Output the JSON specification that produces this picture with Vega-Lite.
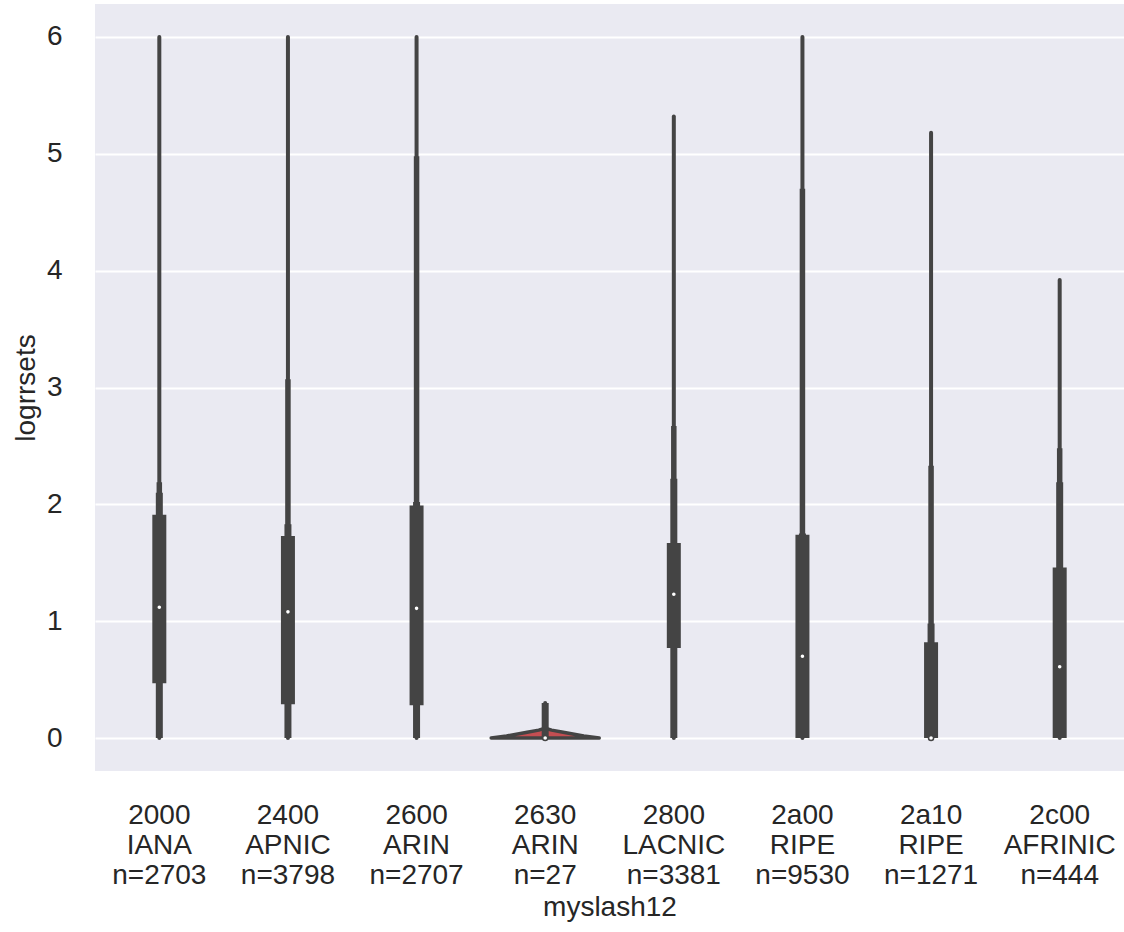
{
  "$schema": "https://vega.github.io/schema/vega-lite/v6.json",
  "width": 1029,
  "height": 767,
  "autosize": {"type": "none"},
  "padding": {"left": 95, "top": 4, "right": 0, "bottom": 161},
  "background": "white",
  "config": {
    "view": {"fill": "#EAEAF2", "stroke": null},
    "axis": {
      "labelFont": "Liberation Sans",
      "titleFont": "Liberation Sans",
      "labelFontSize": 28,
      "titleFontSize": 28,
      "labelColor": "#262626",
      "titleColor": "#262626",
      "titleFontWeight": "normal",
      "domain": false,
      "ticks": false,
      "tickSize": 0,
      "gridColor": "#FFFFFF",
      "gridWidth": 2,
      "gridOpacity": 1
    }
  },
  "datasets": {
    "v": [
      {"g": "2000|IANA|n=2703", "mn": 0, "mx": 6.0, "tail": 2.19, "wlo": 0, "whi": 2.1, "q1": 0.47, "q3": 1.91, "med": 1.12},
      {"g": "2400|APNIC|n=3798", "mn": 0, "mx": 6.0, "tail": 3.07, "wlo": 0, "whi": 1.83, "q1": 0.29, "q3": 1.73, "med": 1.08},
      {"g": "2600|ARIN|n=2707", "mn": 0, "mx": 6.0, "tail": 4.98, "wlo": 0, "whi": 2.02, "q1": 0.28, "q3": 1.99, "med": 1.11},
      {"g": "2630|ARIN|n=27", "mn": 0, "mx": 0.3, "tail": 0.3, "wlo": 0, "whi": 0.3, "q1": 0, "q3": 0, "med": 0},
      {"g": "2800|LACNIC|n=3381", "mn": 0, "mx": 5.32, "tail": 2.67, "wlo": 0, "whi": 2.22, "q1": 0.77, "q3": 1.67, "med": 1.23},
      {"g": "2a00|RIPE|n=9530", "mn": 0, "mx": 6.0, "tail": 4.7, "wlo": 0, "whi": 1.75, "q1": 0, "q3": 1.74, "med": 0.7},
      {"g": "2a10|RIPE|n=1271", "mn": 0, "mx": 5.18, "tail": 2.33, "wlo": 0, "whi": 0.98, "q1": 0, "q3": 0.82, "med": 0},
      {"g": "2c00|AFRINIC|n=444", "mn": 0, "mx": 3.92, "tail": 2.48, "wlo": 0, "whi": 2.19, "q1": 0, "q3": 1.46, "med": 0.61}
    ],
    "shape": [
      {"px": 3.08, "top": 0.0, "bottom": 0.0},
      {"px": 3.2, "top": 0.018, "bottom": 0.0},
      {"px": 3.36, "top": 0.05, "bottom": 0.0},
      {"px": 3.45, "top": 0.068, "bottom": 0.0},
      {"px": 3.5, "top": 0.085, "bottom": 0.0},
      {"px": 3.55, "top": 0.068, "bottom": 0.0},
      {"px": 3.64, "top": 0.05, "bottom": 0.0},
      {"px": 3.8, "top": 0.018, "bottom": 0.0},
      {"px": 3.92, "top": 0.0, "bottom": 0.0}
    ]
  },
  "layer": [
    {
      "data": {"name": "shape"},
      "mark": {"type": "area", "fill": "#C44E52", "stroke": "#444444", "strokeWidth": 3.5, "strokeJoin": "round"},
      "encoding": {
        "x": {"field": "px", "type": "quantitative", "scale": {"domain": [0, 8], "nice": false, "zero": false}, "axis": null},
        "y": {"field": "top", "type": "quantitative", "scale": {"domain": [-0.282, 6.282], "nice": false, "zero": false},
          "axis": {"title": "logrrsets", "values": [0, 1, 2, 3, 4, 5, 6], "format": "d", "labelPadding": 33, "titlePadding": 6, "grid": true}},
        "y2": {"field": "bottom"}
      }
    },
    {
      "data": {"name": "v"},
      "encoding": {
        "x": {
          "field": "g",
          "type": "nominal",
          "sort": null,
          "scale": {"paddingInner": 0, "paddingOuter": 0},
          "axis": {
            "title": "myslash12",
            "labelExpr": "split(datum.value, '|')",
            "labelAngle": 0,
            "labelAlign": "center",
            "labelBaseline": "top",
            "labelLineHeight": 30,
            "labelPadding": 30,
            "labelLimit": 0,
            "titlePadding": 4,
            "grid": false
          }
        }
      },
      "layer": [
        {
          "mark": {"type": "rule", "color": "#444444", "strokeWidth": 4, "strokeCap": "round"},
          "encoding": {
            "y": {"field": "mn", "type": "quantitative", "scale": {"domain": [-0.282, 6.282], "nice": false, "zero": false},
              "axis": {"title": "logrrsets", "values": [0, 1, 2, 3, 4, 5, 6], "format": "d", "labelPadding": 33, "titlePadding": 6, "grid": true}},
            "y2": {"field": "mx"}
          }
        },
        {
          "mark": {"type": "rule", "color": "#444444", "strokeWidth": 5.5, "strokeCap": "butt"},
          "encoding": {"y": {"field": "mn", "type": "quantitative"}, "y2": {"field": "tail"}}
        },
        {
          "mark": {"type": "rule", "color": "#444444", "strokeWidth": 7, "strokeCap": "butt"},
          "encoding": {"y": {"field": "wlo", "type": "quantitative"}, "y2": {"field": "whi"}}
        },
        {
          "mark": {"type": "rule", "color": "#444444", "strokeWidth": 14, "strokeCap": "butt"},
          "encoding": {"y": {"field": "q1", "type": "quantitative"}, "y2": {"field": "q3"}}
        },
        {
          "mark": {"type": "point", "filled": true, "fill": "#FFFFFF", "stroke": "#444444", "strokeWidth": 1.5, "size": 26, "opacity": 1},
          "encoding": {"y": {"field": "med", "type": "quantitative"}}
        }
      ]
    }
  ],
  "resolve": {"scale": {"x": "independent"}}
}
